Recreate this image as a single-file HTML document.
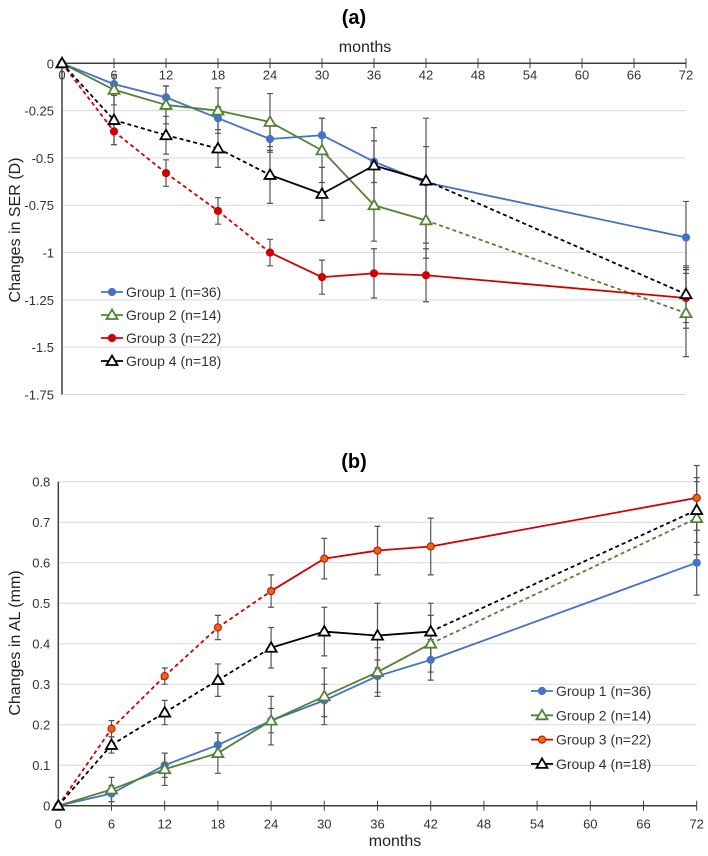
<!DOCTYPE html>
<html><head><meta charset="utf-8"><style>
body{margin:0;background:#fff;font-family:"Liberation Sans",sans-serif}
svg text{font-family:"Liberation Sans",sans-serif}
</style></head><body>
<svg id="s" width="708" height="851" xmlns="http://www.w3.org/2000/svg">
<text x="354" y="24" text-anchor="middle" font-size="20" font-weight="bold">(a)</text>
<text x="354" y="468" text-anchor="middle" font-size="20" font-weight="bold">(b)</text>
</svg>
<script>
const months=[0,6,12,18,24,30,36,42,72];
const serG1=[0,-0.11,-0.18,-0.29,-0.40,-0.38,-0.52,-0.63,-0.92];
const serG2=[0,-0.14,-0.22,-0.25,-0.31,-0.46,-0.75,-0.83,-1.32];
const serG3=[0,-0.36,-0.58,-0.78,-1.00,-1.13,-1.11,-1.12,-1.24];
const serG4=[0,-0.30,-0.38,-0.45,-0.59,-0.69,-0.54,-0.62,-1.22];
const serErr1=[0,0.05,0.06,0.06,0.07,0.09,0.11,0.19,0.19];
const serErr2=[0,0.08,0.10,0.12,0.15,0.17,0.19,0.20,0.23];
const serErr3=[0,0.07,0.07,0.07,0.07,0.09,0.13,0.14,0.16];
const serErr4=[0,0.13,0.10,0.10,0.15,0.14,0.20,0.33,0.15];
const alG1=[0,0.03,0.10,0.15,0.21,0.26,0.32,0.36,0.60];
const alG2=[0,0.04,0.09,0.13,0.21,0.27,0.33,0.40,0.71];
const alG3=[0,0.19,0.32,0.44,0.53,0.61,0.63,0.64,0.76];
const alG4=[0,0.15,0.23,0.31,0.39,0.43,0.42,0.43,0.73];
const alErr1=[0,0.02,0.03,0.03,0.03,0.04,0.04,0.05,0.08];
const alErr2=[0,0.03,0.04,0.05,0.06,0.07,0.06,0.07,0.09];
const alErr3=[0,0.02,0.02,0.03,0.04,0.05,0.06,0.07,0.08];
const alErr4=[0,0.02,0.03,0.04,0.05,0.06,0.08,0.07,0.08];
const xTicks=[0,6,12,18,24,30,36,42,48,54,60,66,72];
const serYTicks=[0,-0.25,-0.5,-0.75,-1,-1.25,-1.5,-1.75];
const alYTicks=[0,0.1,0.2,0.3,0.4,0.5,0.6,0.7,0.8];
const legendLabels=["Group 1 (n=36)","Group 2 (n=14)","Group 3 (n=22)","Group 4 (n=18)"];
const colors=["#4472c4","#548235","#d00000","#000000"];
const NS="http://www.w3.org/2000/svg";
const svg=document.getElementById('s');
function el(t,a,p){const e=document.createElementNS(NS,t);for(const k in a)e.setAttribute(k,a[k]);(p||svg).appendChild(e);return e;}
function chart(cfg){
  const g=el('g',{});
  
  
  const X=m=>cfg.x0+(m/72)*(cfg.x1-cfg.x0);
  const Y=v=>cfg.yA+(v-cfg.vA)/(cfg.vB-cfg.vA)*(cfg.yB-cfg.yA);
  cfg.yTicks.forEach(t=>{
    const y=Y(t);
    if(t!==cfg.axisV){const l=el('line',{x1:cfg.x0,x2:cfg.x1,y1:y,y2:y,stroke:'#d9d9d9','stroke-width':1},g);
    }
    const tx=el('text',{x:cfg.x0-8,y:y+5,'text-anchor':'end','font-size':13,fill:'#333'},g);
    tx.textContent=String(t);
    
  });
  const ay=Y(cfg.axisV);
  const xa=el('line',{x1:cfg.x0,x2:cfg.x1,y1:ay,y2:ay,stroke:'#404040','stroke-width':1.5},g);
  
  const yTop=Math.min(Y(cfg.yTicks[0]),Y(cfg.yTicks[cfg.yTicks.length-1]));
  const yBot=Math.max(Y(cfg.yTicks[0]),Y(cfg.yTicks[cfg.yTicks.length-1]));
  const ya=el('line',{x1:cfg.x0,x2:cfg.x0,y1:yTop,y2:yBot,stroke:'#404040','stroke-width':1.5},g);
  
  xTicks.forEach(t=>{
    const x=X(t);
    el('line',{x1:x,x2:x,y1:ay-5,y2:ay+5,stroke:'#404040','stroke-width':1},g);
    const tx=el('text',{x:x,y:ay+cfg.tickDy,'text-anchor':'middle','font-size':13,fill:'#333'},g);
    tx.textContent=t;
    
  });
  const xt=el('text',{x:cfg.xtX,y:cfg.xtY,'text-anchor':'middle','font-size':16,fill:'#222'},g);
  xt.textContent='months';
  const yt=el('text',{x:0,y:0,'text-anchor':'middle','font-size':16,fill:'#222',transform:`translate(${cfg.ytX},${cfg.ytY}) rotate(-90)`},g);
  yt.textContent=cfg.ytitle;
  cfg.series.forEach((s,i)=>{
    s.v.forEach((v,j)=>{
      const e=s.e[j];if(!e)return;const x=X(months[j]);
      const b=el('path',{d:`M${x},${Y(v-e)}V${Y(v+e)}M${x-3},${Y(v-e)}h6M${x-3},${Y(v+e)}h6`,stroke:'#555','stroke-width':1.2,fill:'none'},g);
      
    });
  });
  cfg.series.forEach((s,i)=>{
    for(let j=0;j<s.v.length-1;j++){
      const l=el('line',{x1:X(months[j]),y1:Y(s.v[j]),x2:X(months[j+1]),y2:Y(s.v[j+1]),stroke:colors[i],'stroke-width':1.8},g);
      if(s.dash[j])l.setAttribute('stroke-dasharray','4,3');
      
    }
  });
  function marker(i,x,y,p){
    let m;
    if(i===0||i===2){m=el('circle',{cx:x,cy:y,r:3.6,fill:cfg.fill3&&i===2?'#e36c0a':colors[i],stroke:colors[i],'stroke-width':1},p);}
    else{m=el('path',{d:`M${x},${y-5.5}L${x+5.5},${y+4}L${x-5.5},${y+4}Z`,fill:'#fff',stroke:colors[i],'stroke-width':1.8},p);}
    return m;
  }
  cfg.series.forEach((s,i)=>{
    s.v.forEach((v,j)=>{const m=marker(i,X(months[j]),Y(v),g);});
  });
  legendLabels.forEach((lab,i)=>{
    const y=cfg.lgY+i*cfg.lgDy;
    const lg=el('g',{},g);
    
    el('line',{x1:cfg.lgX,x2:cfg.lgX+22,y1:y,y2:y,stroke:colors[i],'stroke-width':1.8},lg);
    marker(i,cfg.lgX+11,y,lg);
    const t=el('text',{x:cfg.lgX+25,y:y+5,'font-size':14,fill:'#333'},lg);t.textContent=lab;
  });
}
chart({name:'chart-ser',x0:62,x1:686,vA:0,yA:63.3,vB:-1.75,yB:394.5,axisV:0,yTicks:serYTicks,tickDy:16,
  xtX:365,xtY:52,ytX:20,ytY:230,ytitle:'Changes in SER (D)',lgX:101,lgY:292,lgDy:23,
  series:[{v:serG1,e:serErr1,dash:[0,0,0,0,0,0,0,0]},{v:serG2,e:serErr2,dash:[0,0,0,0,0,0,0,1]},
  {v:serG3,e:serErr3,dash:[1,1,1,1,0,0,0,0]},{v:serG4,e:serErr4,dash:[1,1,1,1,0,0,0,1]}]});
chart({name:'chart-al',x0:58.3,x1:696.7,vA:0,yA:805.7,vB:0.8,yB:481.7,axisV:0,yTicks:alYTicks,tickDy:23,fill3:true,
  xtX:395,xtY:846,ytX:20,ytY:643,ytitle:'Changes in AL (mm)',lgX:531,lgY:691,lgDy:24.3,
  series:[{v:alG1,e:alErr1,dash:[0,0,0,0,0,0,0,0]},{v:alG2,e:alErr2,dash:[0,0,0,0,0,0,0,1]},
  {v:alG3,e:alErr3,dash:[1,1,1,1,0,0,0,0]},{v:alG4,e:alErr4,dash:[1,1,1,1,0,0,0,1]}]});
</script>
</body></html>
